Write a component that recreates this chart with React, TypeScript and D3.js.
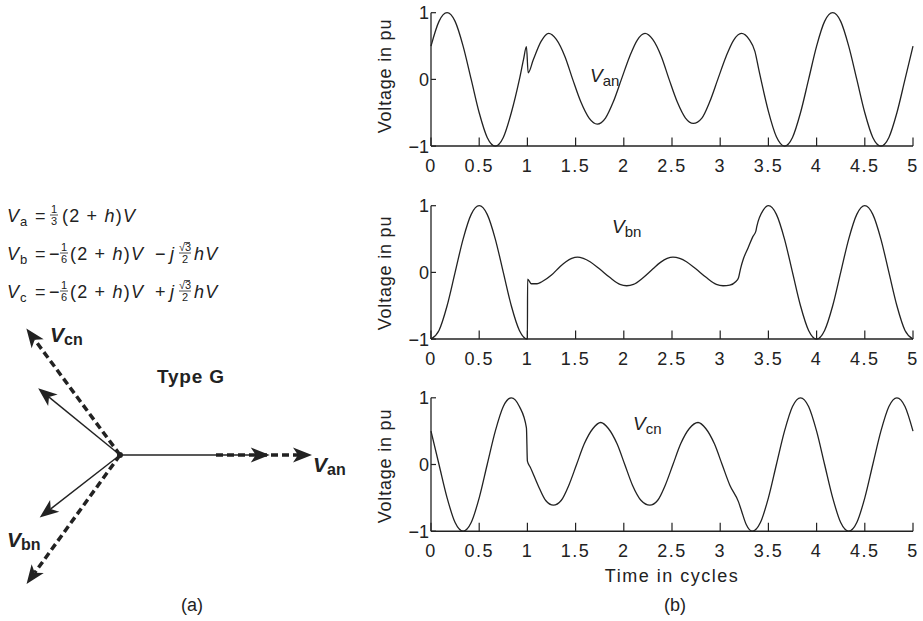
import React from "react";
import * as d3 from "d3";

const timeTicks = [0, 0.5, 1, 1.5, 2, 2.5, 3, 3.5, 4, 4.5, 5];
const timeTickLabels = ["0", "0.5", "1", "1.5", "2", "2.5", "3", "3.5", "4", "4.5", "5"];
const voltTicks = [-1, 0, 1];
const voltTickLabels = ["\u22121", "0", "1"];

const vanPoints: [number, number][] = [
  [0, 0.5], [0.083, 0.87], [0.167, 1.0], [0.25, 0.87], [0.333, 0.5], [0.417, 0.0],
  [0.5, -0.5], [0.583, -0.87], [0.667, -1.0], [0.75, -0.87], [0.833, -0.5], [0.917, 0.0],
  [0.96, 0.3], [0.99, 0.49], [1.008, 0.1], [1.06, 0.29], [1.142, 0.57], [1.22, 0.69],
  [1.3, 0.6], [1.39, 0.34], [1.47, 0.0], [1.555, -0.34], [1.64, -0.58], [1.725, -0.67],
  [1.81, -0.58], [1.89, -0.34], [1.975, 0.0], [2.06, 0.34], [2.14, 0.59], [2.22, 0.69],
  [2.3, 0.6], [2.39, 0.34], [2.47, 0.0], [2.555, -0.34], [2.64, -0.58], [2.72, -0.66],
  [2.81, -0.58], [2.89, -0.34], [2.975, 0.0], [3.06, 0.34], [3.14, 0.59], [3.22, 0.69],
  [3.3, 0.6], [3.36, 0.42], [3.4, 0.15], [3.43, -0.05], [3.5, -0.48], [3.583, -0.86],
  [3.667, -1.0], [3.75, -0.87], [3.833, -0.5], [3.917, 0.0], [4.0, 0.5], [4.083, 0.87],
  [4.167, 1.0], [4.25, 0.87], [4.333, 0.5], [4.417, 0.0], [4.5, -0.5], [4.583, -0.87],
  [4.667, -1.0], [4.75, -0.87], [4.833, -0.5], [4.917, 0.0], [5.0, 0.5],
];

const vbnPoints: [number, number][] = [
  [0, -1.0], [0.083, -0.87], [0.167, -0.5], [0.25, 0.0], [0.333, 0.5], [0.417, 0.87],
  [0.5, 1.0], [0.583, 0.87], [0.667, 0.5], [0.75, 0.0], [0.833, -0.5], [0.917, -0.87],
  [1.0, -1.0], [1.002, -0.1], [1.04, -0.17], [1.1, -0.17], [1.15, -0.14], [1.25, -0.04],
  [1.34, 0.09], [1.4, 0.16], [1.46, 0.21], [1.52, 0.23], [1.58, 0.21], [1.65, 0.16],
  [1.75, 0.05], [1.85, -0.07], [1.96, -0.18], [2.03, -0.2], [2.1, -0.18], [2.2, -0.08],
  [2.3, 0.05], [2.38, 0.15], [2.45, 0.21], [2.51, 0.23], [2.58, 0.21], [2.65, 0.16],
  [2.75, 0.05], [2.85, -0.07], [2.96, -0.18], [3.03, -0.2], [3.1, -0.19], [3.16, -0.14],
  [3.19, -0.08], [3.21, 0.05], [3.24, 0.2], [3.29, 0.37], [3.34, 0.54], [3.37, 0.62],
  [3.38, 0.69], [3.45, 0.94], [3.5, 1.0], [3.583, 0.87], [3.667, 0.5], [3.75, 0.0],
  [3.833, -0.5], [3.917, -0.87], [4.0, -1.0], [4.083, -0.87], [4.167, -0.5], [4.25, 0.0],
  [4.333, 0.5], [4.417, 0.87], [4.5, 1.0], [4.583, 0.87], [4.667, 0.5], [4.75, 0.0],
  [4.833, -0.5], [4.917, -0.87], [5.0, -1.0],
];

const vcnPoints: [number, number][] = [
  [0, 0.5], [0.083, 0.0], [0.167, -0.5], [0.25, -0.87], [0.333, -1.0], [0.417, -0.87],
  [0.5, -0.5], [0.583, 0.0], [0.667, 0.5], [0.75, 0.87], [0.833, 1.0], [0.917, 0.87],
  [0.99, 0.55], [1.0, 0.05], [1.03, -0.04], [1.11, -0.31], [1.19, -0.54], [1.27, -0.61],
  [1.35, -0.54], [1.43, -0.31], [1.51, 0.0], [1.59, 0.31], [1.68, 0.54], [1.76, 0.63],
  [1.84, 0.54], [1.93, 0.31], [2.01, 0.0], [2.09, -0.31], [2.18, -0.54], [2.27, -0.61],
  [2.35, -0.54], [2.43, -0.31], [2.51, 0.0], [2.59, 0.31], [2.68, 0.54], [2.77, 0.63],
  [2.85, 0.54], [2.94, 0.31], [3.02, 0.0], [3.1, -0.31], [3.19, -0.56], [3.22, -0.69],
  [3.27, -0.9], [3.333, -1.0], [3.417, -0.87], [3.5, -0.5], [3.583, 0.0], [3.667, 0.5],
  [3.75, 0.87], [3.833, 1.0], [3.917, 0.87], [4.0, 0.5], [4.083, 0.0], [4.167, -0.5],
  [4.25, -0.87], [4.333, -1.0], [4.417, -0.87], [4.5, -0.5], [4.583, 0.0], [4.667, 0.5],
  [4.75, 0.87], [4.833, 1.0], [4.917, 0.87], [5.0, 0.5],
];

const panelSubscripts = ["an", "bn", "cn"];

// phasor diagram (pu magnitude, angle in degrees)
const prefaultNames = ["an", "cn", "bn"];
const prefaultMagnitudes = [1.0, 0.82, 0.83];
const prefaultAngles = [0, 126.5, -125.9];
const prefaultStarts = [0.5, 0, 0];
const faultMagnitudes = [0.78, 0.55, 0.53];
const faultAngles = [0, 140.8, -142.1];

const FONT = "'Liberation Sans', Arial, Helvetica, sans-serif";
const INK = "#222";

const xScale = d3.scaleLinear().domain([0, 5]).range([431, 913]);
const panelTops = [12.7, 205.7, 397.8];
const panelHeight = 133.4;
const seriesList = [vanPoints, vbnPoints, vcnPoints];
const labelPos: [number, number][] = [[590, 82], [612, 233], [633, 430]];
const yLabelCenters = [76, 273, 466];

function Panel({ idx }: { idx: number }) {
  const top = panelTops[idx];
  const y = d3.scaleLinear().domain([-1, 1]).range([top + panelHeight, top]);
  const line = d3
    .line<[number, number]>()
    .x((d) => xScale(d[0]))
    .y((d) => y(d[1]))
    .curve(d3.curveMonotoneX);
  const x0 = xScale(0);
  const yb = y(-1);
  return (
    <g>
      <path d={line(seriesList[idx]) || ""} fill="none" stroke={INK} strokeWidth={1.3} />
      <line x1={x0} x2={x0} y1={y(1)} y2={yb} stroke={INK} strokeWidth={1.3} />
      <line x1={x0} x2={xScale(5)} y1={yb} y2={yb} stroke={INK} strokeWidth={1.5} />
      {timeTicks.map((t, i) => (
        <g key={i}>
          <line x1={xScale(t)} x2={xScale(t)} y1={yb} y2={yb - 8.5} stroke={INK} strokeWidth={1.2} />
          <text
            x={xScale(t)}
            y={yb + 26}
            textAnchor="middle"
            fontFamily={FONT}
            fontSize={18}
            letterSpacing={1.5}
            fill={INK}
          >
            {timeTickLabels[i]}
          </text>
        </g>
      ))}
      {voltTicks.map((v, i) => (
        <g key={i}>
          <line x1={x0} x2={x0 + 5} y1={y(v)} y2={y(v)} stroke={INK} strokeWidth={1.2} />
          <text
            x={x0 - 2}
            y={y(v)}
            dy="0.36em"
            textAnchor="end"
            fontFamily={FONT}
            fontSize={18}
            fill={INK}
          >
            {voltTickLabels[i]}
          </text>
        </g>
      ))}
      <text
        transform={`translate(391,${yLabelCenters[idx]}) rotate(-90)`}
        textAnchor="middle"
        fontFamily={FONT}
        fontSize={18}
        letterSpacing={0.8}
        fill={INK}
      >
        Voltage in pu
      </text>
      <text x={labelPos[idx][0]} y={labelPos[idx][1]} fontFamily={FONT} fontSize={19} fill={INK}>
        <tspan fontStyle="italic">V</tspan>
        <tspan fontSize={15} dy={4}>
          {panelSubscripts[idx]}
        </tspan>
      </text>
    </g>
  );
}

const ORIGIN: [number, number] = [120, 455];
const pScale = d3.scaleLinear().domain([0, 1]).range([0, 192]);

function tipOf(mag: number, ang: number): [number, number] {
  const r = pScale(mag);
  const a = (ang * Math.PI) / 180;
  return [ORIGIN[0] + r * Math.cos(a), ORIGIN[1] - r * Math.sin(a)];
}

function Arrow({ mag, ang, start, dashed }: { mag: number; ang: number; start: number; dashed: boolean }) {
  const a = (ang * Math.PI) / 180;
  const ux = Math.cos(a);
  const uy = -Math.sin(a);
  const nx = -uy;
  const ny = ux;
  const [tx, ty] = tipOf(mag, ang);
  const [sx, sy] = tipOf(start, ang);
  const L = 19;
  const W = 7.5;
  const notch = 5;
  const bx = tx - L * ux;
  const by = ty - L * uy;
  const mx = tx - (L - notch) * ux;
  const my = ty - (L - notch) * uy;
  const head = `M${tx},${ty}L${bx + W * nx},${by + W * ny}L${mx},${my}L${bx - W * nx},${by - W * ny}Z`;
  return (
    <g>
      <line
        x1={sx}
        y1={sy}
        x2={mx}
        y2={my}
        stroke={INK}
        strokeWidth={dashed ? 3.5 : 1.4}
        strokeDasharray={dashed ? "7 4" : undefined}
      />
      <path d={head} fill={INK} />
    </g>
  );
}

function Frac({ cx, base, num, den, root }: { cx: number; base: number; num: string; den: string; root?: boolean }) {
  return (
    <g fontFamily={FONT} fontSize={11} fill={INK}>
      <text x={cx} y={base - 9} textAnchor="middle">
        {num}
      </text>
      {root ? <line x1={cx - 0.5} x2={cx + 5} y1={base - 17.5} y2={base - 17.5} stroke={INK} strokeWidth={0.8} /> : null}
      <line x1={cx - (root ? 6 : 4)} x2={cx + (root ? 6 : 4)} y1={base - 7} y2={base - 7} stroke={INK} strokeWidth={0.8} />
      <text x={cx} y={base + 3} textAnchor="middle">
        {den}
      </text>
    </g>
  );
}

function Formula({ base, sub, first, sign }: { base: number; sub: string; first: boolean; sign: string }) {
  const ls = 1.2;
  return (
    <g fontFamily={FONT} fill={INK}>
      <text x={7} y={base} fontSize={18} fontStyle="italic">
        V
      </text>
      <text x={20} y={base + 4} fontSize={13}>
        {sub}
      </text>
      <text x={35} y={base} fontSize={18}>
        =
      </text>
      {first ? (
        <>
          <Frac cx={54} base={base} num="1" den="3" />
          <text x={62} y={base} fontSize={18} letterSpacing={ls}>
            (2 + <tspan fontStyle="italic">h</tspan>)<tspan fontStyle="italic">V</tspan>
          </text>
        </>
      ) : (
        <>
          <text x={49} y={base} fontSize={18}>
            {"\u2212"}
          </text>
          <Frac cx={64} base={base} num="1" den="6" />
          <text x={70} y={base} fontSize={18} letterSpacing={ls}>
            (2 + <tspan fontStyle="italic">h</tspan>)<tspan fontStyle="italic">V</tspan>
          </text>
          <text x={155} y={base} fontSize={18}>
            {sign}
          </text>
          <text x={170} y={base} fontSize={18} fontStyle="italic">
            j
          </text>
          <Frac cx={185} base={base} num={"\u221A3"} den="2" root />
          <text x={194} y={base} fontSize={18} fontStyle="italic" letterSpacing={ls}>
            hV
          </text>
        </>
      )}
    </g>
  );
}

export default function App() {
  return (
    <svg
      width={923}
      height={621}
      viewBox="0 0 923 621"
      style={{ position: "absolute", left: 0, top: 0, background: "#fff" }}
    >
      <rect x={0} y={0} width={923} height={621} fill="#fff" />
      {panelTops.map((_, i) => (
        <Panel key={i} idx={i} />
      ))}
      <text x={672} y={582} textAnchor="middle" fontFamily={FONT} fontSize={18} letterSpacing={1.5} fill={INK}>
        Time in cycles
      </text>
      <text x={675} y={611} textAnchor="middle" fontFamily={FONT} fontSize={18} fill={INK}>
        (b)
      </text>

      <Formula base={222} sub="a" first={true} sign="" />
      <Formula base={260} sub="b" first={false} sign={"\u2212"} />
      <Formula base={298} sub="c" first={false} sign="+" />

      {prefaultNames.map((n, i) => (
        <Arrow key={"p" + n} mag={prefaultMagnitudes[i]} ang={prefaultAngles[i]} start={prefaultStarts[i]} dashed={true} />
      ))}
      {faultMagnitudes.map((m, i) => (
        <Arrow key={"f" + i} mag={m} ang={faultAngles[i]} start={0} dashed={false} />
      ))}
      <circle cx={ORIGIN[0]} cy={ORIGIN[1]} r={3} fill={INK} />

      <g fontFamily={FONT} fontWeight="bold" fill={INK}>
        <text x={50} y={342} fontSize={21}>
          <tspan fontStyle="italic">V</tspan>
          <tspan fontSize={16} dy={3}>cn</tspan>
        </text>
        <text x={313} y={472} fontSize={21}>
          <tspan fontStyle="italic">V</tspan>
          <tspan fontSize={16} dy={3}>an</tspan>
        </text>
        <text x={7} y={547} fontSize={21}>
          <tspan fontStyle="italic">V</tspan>
          <tspan fontSize={16} dy={3}>bn</tspan>
        </text>
        <text x={157} y={383} fontSize={19} letterSpacing={0.8}>
          Type G
        </text>
      </g>
      <text x={192} y={611} textAnchor="middle" fontFamily={FONT} fontSize={18} fill={INK}>
        (a)
      </text>
    </svg>
  );
}
